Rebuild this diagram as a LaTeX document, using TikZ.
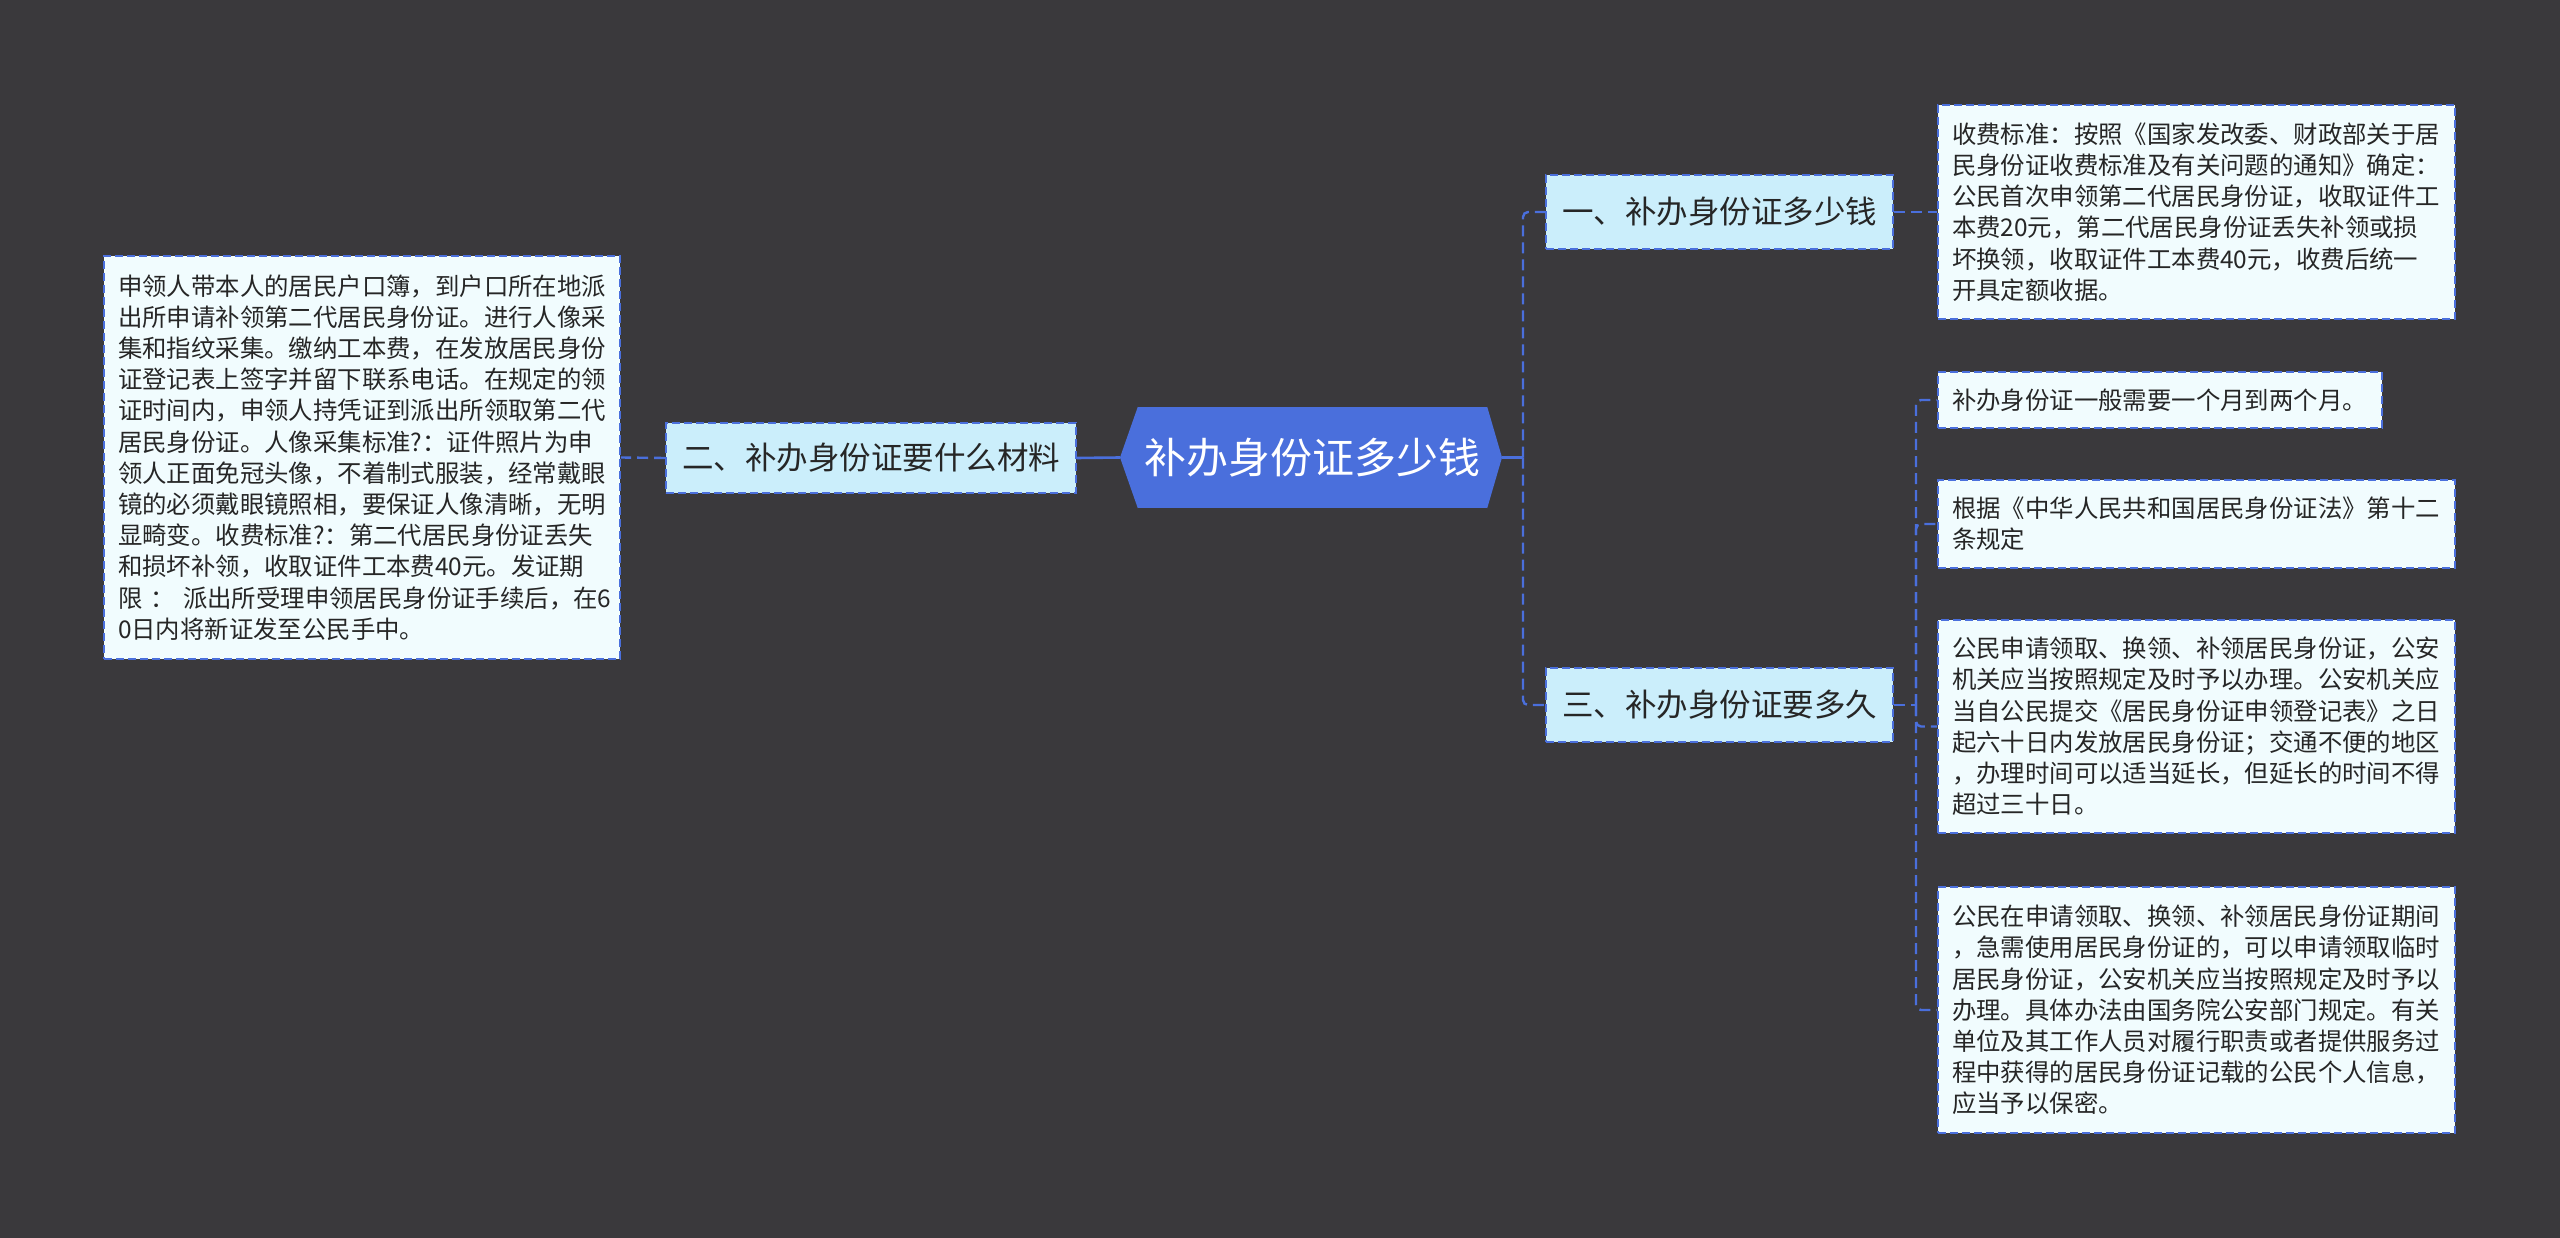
\documentclass[tikz,border=0pt]{standalone}
\usepackage{fontspec}
\setmainfont{Noto Sans CJK SC}
\definecolor{bgc}{HTML}{3A393C}
\definecolor{bluec}{HTML}{4A6FDC}
\definecolor{lvone}{HTML}{CBEEFB}
\definecolor{leafc}{HTML}{F1FCFE}
\definecolor{txtc}{HTML}{262626}
\tikzset{
  rootbox/.style={fill=bluec, text=white, inner sep=0pt, font=\fontsize{42}{48}\selectfont},
  lvbox/.style={fill=lvone, draw=bluec, line width=1.6pt, dash pattern=on 8pt off 4pt, inner sep=0pt, text=txtc, font=\fontsize{31.5}{36}\selectfont},
  leafbox/.style={fill=leafc, draw=bluec, line width=1.6pt, dash pattern=on 8pt off 4pt, inner xsep=14pt, inner ysep=0pt, align=left, text=txtc, font=\fontsize{24.4}{31.2}\selectfont},
  solidconn/.style={draw=bluec, line width=2.6pt},
  dashconn/.style={draw=bluec, line width=2.4pt, dash pattern=on 11pt off 6pt, rounded corners=5pt}
}
\begin{document}
\begin{tikzpicture}[x=1pt,y=-1pt]
\fill[bgc] (0,0) rectangle (2560,1238);
\useasboundingbox (0,0) rectangle (2560,1238);
% root
\node[rootbox, minimum width=349pt, minimum height=101pt] (root) at (1312.5,457.5) {补办身份证多少钱};
\coordinate (tipL) at (1120,457.5);
\coordinate (tipR) at (1502,457.5);
\fill[bluec] (root.north west) -- (tipL) -- (root.south west) -- cycle;
\fill[bluec] (root.north east) -- (tipR) -- (root.south east) -- cycle;
% level one
\node[lvbox, minimum width=410pt, minimum height=70pt] (n2) at (871,458) {二、补办身份证要什么材料};
\node[lvbox, minimum width=347pt, minimum height=74pt] (n1) at (1719.5,212) {一、补办身份证多少钱};
\node[lvbox, minimum width=347pt, minimum height=74pt] (n3) at (1719.5,705) {三、补办身份证要多久};
% leaves
\node[leafbox, text width=488pt, minimum height=403pt] (l0) at (362,457.5) {申领人带本人的居民户口簿，到户口所在地派\\出所申请补领第二代居民身份证。进行人像采\\集和指纹采集。缴纳工本费，在发放居民身份\\证登记表上签字并留下联系电话。在规定的领\\证时间内，申领人持凭证到派出所领取第二代\\居民身份证。人像采集标准?：证件照片为申\\领人正面免冠头像，不着制式服装，经常戴眼\\镜的必须戴眼镜照相，要保证人像清晰，无明\\显畸变。收费标准?：第二代居民身份证丢失\\和损坏补领，收取证件工本费40元。发证期\\限 ： 派出所受理申领居民身份证手续后，在6\\0日内将新证发至公民手中。};
\node[leafbox, text width=489pt, minimum height=214pt] (l1) at (2196.5,212) {收费标准：按照《国家发改委、财政部关于居\\民身份证收费标准及有关问题的通知》确定：\\公民首次申领第二代居民身份证，收取证件工\\本费20元，第二代居民身份证丢失补领或损\\坏换领，收取证件工本费40元，收费后统一\\开具定额收据。};
\node[leafbox, text width=416pt, minimum height=56pt] (l2) at (2160,400) {补办身份证一般需要一个月到两个月。};
\node[leafbox, text width=489pt, minimum height=88pt] (l3) at (2196.5,524) {根据《中华人民共和国居民身份证法》第十二\\条规定};
\node[leafbox, text width=489pt, minimum height=213pt] (l4) at (2196.5,726.5) {公民申请领取、换领、补领居民身份证，公安\\机关应当按照规定及时予以办理。公安机关应\\当自公民提交《居民身份证申领登记表》之日\\起六十日内发放居民身份证；交通不便的地区\\，办理时间可以适当延长，但延长的时间不得\\超过三十日。};
\node[leafbox, text width=489pt, minimum height=246pt] (l5) at (2196.5,1010) {公民在申请领取、换领、补领居民身份证期间\\，急需使用居民身份证的，可以申请领取临时\\居民身份证，公安机关应当按照规定及时予以\\办理。具体办法由国务院公安部门规定。有关\\单位及其工作人员对履行职责或者提供服务过\\程中获得的居民身份证记载的公民个人信息，\\应当予以保密。};
% connectors
\coordinate (jR) at (1523,457.5);
\coordinate (j3) at (1916,705);
\draw[solidconn] (tipR) -- (jR);
\draw[solidconn] (tipL) -- (n2.east);
\draw[dashconn] (n2.west) -- (l0.east);
\draw[dashconn] (jR) |- (n1.west);
\draw[dashconn] (jR) |- (n3.west);
\draw[dashconn] (n1.east) -- (l1.west);
\draw[dashconn] (n3.east) -- (j3);
\draw[dashconn] (j3) |- (l2.west);
\draw[dashconn] (j3) |- (l3.west);
\draw[dashconn] (j3) |- (l4.west);
\draw[dashconn] (j3) |- (l5.west);
\end{tikzpicture}
\end{document}
